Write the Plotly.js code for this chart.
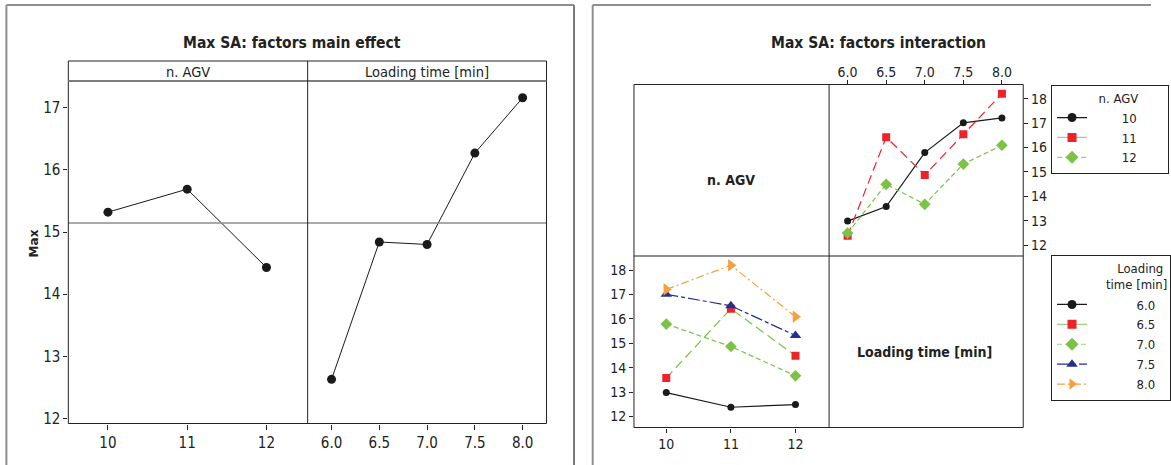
<!DOCTYPE html>
<html>
<head>
<meta charset="utf-8">
<script src="https://cdn.plot.ly/plotly-3.0.1.min.js"></script>
<style>
html,body{margin:0;padding:0;background:#fff;}
#chart{width:1171px;height:465px;}
</style>
</head>
<body>
<div id="chart"></div>
<script>
// ---------------- data ----------------
const agvLevels = [10, 11, 12];
const agvTickText = ['10', '11', '12'];
const loadLevels = [6.0, 6.5, 7.0, 7.5, 8.0];
const loadTickText = ['6.0', '6.5', '7.0', '7.5', '8.0'];
const yTicksMain = [12, 13, 14, 15, 16, 17];
const yTicksInter = [12, 13, 14, 15, 16, 17, 18];

// main effects (means of Max SA)
const mainAGV = [15.32, 15.69, 14.43];
const mainLoad = [12.63, 14.84, 14.80, 16.27, 17.16];

// interaction means: one row per n. AGV, one value per loading time
const interAGV10 = [12.98, 13.58, 15.79, 17.01, 17.21];
const interAGV11 = [12.38, 16.42, 14.87, 16.54, 18.20];
const interAGV12 = [12.49, 14.49, 13.67, 15.32, 16.09];

const agvNames = ['10', '11', '12'];
const loadNames = ['6.0', '6.5', '7.0', '7.5', '8.0'];

// ---------------- layout helpers ----------------
const W = 1171, H = 465;
const px = v => v / W;
const py = v => 1 - v / H;
const FONT = 'Liberation Sans Narrow, DejaVu Sans Condensed, Arial Narrow, Liberation Sans, sans-serif';
const INK = '#222';

const cBlack = '#1a1a1a', cRed = '#ee2229', cGreen = '#7cc245', cLGreen = '#9dd27a',
      cNavy = '#22308f', cOrange = '#f5a03a';

const interRows = [interAGV10, interAGV11, interAGV12];
const grand = mainAGV.reduce((a, b) => a + b, 0) / mainAGV.length;

const traces = [];
// main effect panels
traces.push({x: agvLevels, y: mainAGV, xaxis: 'x', yaxis: 'y', mode: 'lines+markers',
  line: {color: cBlack, width: 1}, marker: {color: cBlack, size: 9}, showlegend: false});
traces.push({x: loadLevels, y: mainLoad, xaxis: 'x2', yaxis: 'y2', mode: 'lines+markers',
  line: {color: cBlack, width: 1}, marker: {color: cBlack, size: 9}, showlegend: false});

// interaction: top-right (x = loading time, lines = n. AGV)
const agvStyles = [
  {line: {color: cBlack, width: 1.2}, marker: {color: cBlack, size: 7, symbol: 'circle'}},
  {line: {color: cRed, width: 1.2, dash: '9px,5px'}, marker: {color: cRed, size: 8, symbol: 'square'}},
  {line: {color: cGreen, width: 1.2, dash: '5px,3px'}, marker: {color: cGreen, size: 9, symbol: 'diamond'}}
];
interRows.forEach((row, i) => {
  traces.push(Object.assign({x: loadLevels, y: row, xaxis: 'x3', yaxis: 'y3', mode: 'lines+markers',
    showlegend: false, name: agvNames[i]}, agvStyles[i]));
});

// interaction: bottom-left (x = n. AGV, lines = loading time)
const loadStyles = [
  {line: {color: cBlack, width: 1.2}, marker: {color: cBlack, size: 7, symbol: 'circle'}},
  {line: {color: cGreen, width: 1.2, dash: '9px,5px'}, marker: {color: cRed, size: 8, symbol: 'square'}},
  {line: {color: cGreen, width: 1.2, dash: '5px,3px'}, marker: {color: cGreen, size: 9, symbol: 'diamond'}},
  {line: {color: cNavy, width: 1.2, dash: '12px,3px,4px,3px'}, marker: {color: cNavy, size: 10, symbol: 'triangle-up'}},
  {line: {color: cOrange, width: 1.2, dash: '8px,3px,2px,3px'}, marker: {color: cOrange, size: 11, symbol: 'triangle-right'}}
];
loadLevels.forEach((lt, j) => {
  traces.push(Object.assign({x: agvLevels, y: interRows.map(r => r[j]), xaxis: 'x4', yaxis: 'y4',
    mode: 'lines+markers', showlegend: false, name: loadNames[j]}, loadStyles[j]));
});

// legend entries (as drawn in the original legends)
const pad = n => '\u00a0'.repeat(n);
const agvLegendStyles = [
  {line: {color: cBlack, width: 1.2}, marker: {color: cBlack, size: 9, symbol: 'circle'}},
  {line: {color: cLGreen, width: 1.2}, marker: {color: cRed, size: 9, symbol: 'square'}},
  {line: {color: cLGreen, width: 1.2, dash: '5px,3px'}, marker: {color: cGreen, size: 10, symbol: 'diamond'}}
];
agvNames.forEach((nm, i) => {
  traces.push(Object.assign({x: [null], y: [null], xaxis: 'x3', yaxis: 'y3', mode: 'lines+markers',
    name: pad(8) + nm + pad(7), legend: 'legend', showlegend: true}, agvLegendStyles[i]));
});
const loadLegendStyles = [
  {line: {color: cBlack, width: 1.2}, marker: {color: cBlack, size: 9, symbol: 'circle'}},
  {line: {color: cLGreen, width: 1.2}, marker: {color: cRed, size: 9, symbol: 'square'}},
  {line: {color: cLGreen, width: 1.2, dash: '5px,3px'}, marker: {color: cGreen, size: 10, symbol: 'diamond'}},
  {line: {color: cNavy, width: 1.2, dash: '12px,3px,4px,3px'}, marker: {color: cNavy, size: 10, symbol: 'triangle-up'}},
  {line: {color: cOrange, width: 1.2, dash: '8px,3px,2px,3px'}, marker: {color: cOrange, size: 10, symbol: 'triangle-right'}}
];
loadNames.forEach((nm, j) => {
  traces.push(Object.assign({x: [null], y: [null], xaxis: 'x4', yaxis: 'y4', mode: 'lines+markers',
    name: pad(12) + nm + pad(1), legend: 'legend2', showlegend: true}, loadLegendStyles[j]));
});

const axBase = {showgrid: false, zeroline: false, showline: false, ticks: 'outside', ticklen: 5,
  tickcolor: INK, tickwidth: 1, fixedrange: true, tickfont: {family: FONT, size: 15, color: INK}};
const axI = Object.assign({}, axBase, {ticklen: 4, tickfont: {family: FONT, size: 14, color: INK}});

function ann(text, x, y, size, extra) {
  return Object.assign({text: text, xref: 'paper', yref: 'paper', x: px(x), y: py(y), showarrow: false,
    xanchor: 'center', yanchor: 'middle', font: {family: FONT, size: size, color: INK}}, extra || {});
}

const layout = {
  width: W, height: H, margin: {l: 0, r: 0, t: 0, b: 0},
  paper_bgcolor: '#fff', plot_bgcolor: 'rgba(0,0,0,0)',
  font: {family: FONT, color: INK},
  xaxis: Object.assign({}, axBase, {domain: [px(69.5), px(313)], range: [9.5, 12.52], anchor: 'y',
    tickvals: agvLevels, ticktext: agvTickText}),
  yaxis: Object.assign({}, axBase, {domain: [py(423.5), py(81)], range: [11.92, 17.43], anchor: 'x',
    tickvals: yTicksMain, ticklen: 4}),
  xaxis2: Object.assign({}, axBase, {domain: [px(313), px(556)], range: [5.75, 8.25], anchor: 'y2',
    tickvals: loadLevels, ticktext: loadTickText}),
  yaxis2: Object.assign({}, axBase, {domain: [py(423.5), py(81)], range: [11.92, 17.43], anchor: 'x2',
    ticks: '', showticklabels: false}),
  xaxis3: Object.assign({}, axI, {domain: [px(843.5), px(1041)], range: [5.76, 8.276], anchor: 'y3', side: 'top',
    tickvals: loadLevels, ticktext: loadTickText, ticklabelstandoff: -3}),
  yaxis3: Object.assign({}, axI, {domain: [py(256), py(84.5)], range: [11.55, 18.58], anchor: 'x3', side: 'right',
    tickvals: yTicksInter}),
  xaxis4: Object.assign({}, axI, {domain: [px(645), px(843.5)], range: [9.5, 12.52], anchor: 'y4',
    tickvals: agvLevels, ticktext: agvTickText}),
  yaxis4: Object.assign({}, axI, {domain: [py(427.5), py(256)], range: [11.55, 18.58], anchor: 'x4',
    tickvals: yTicksInter}),
  legend: {x: px(1069.3), y: py(84.7), xanchor: 'left', yanchor: 'top', bordercolor: INK, borderwidth: 1,
    bgcolor: '#fff', font: {family: FONT, size: 13, color: INK}, tracegroupgap: 0, itemwidth: 30,
    title: {text: pad(12) + 'n. AGV', font: {family: FONT, size: 13, color: INK}}},
  legend2: {x: px(1069.3), y: py(254.7), xanchor: 'left', yanchor: 'top', bordercolor: INK, borderwidth: 1,
    bgcolor: '#fff', font: {family: FONT, size: 13, color: INK}, tracegroupgap: 0, itemwidth: 30,
    title: {text: pad(17) + 'Loading<br>' + pad(14) + 'time [min]', font: {family: FONT, size: 13, color: INK}}},
  shapes: [
    // outer frames
    {type: 'line', xref: 'paper', yref: 'paper', x0: px(6.5), x1: px(584), y0: py(5), y1: py(5), line: {color: '#8f8f8f', width: 2}},
    {type: 'line', xref: 'paper', yref: 'paper', x0: px(6.5), x1: px(6.5), y0: py(5), y1: 0, line: {color: '#8f8f8f', width: 2}},
    {type: 'line', xref: 'paper', yref: 'paper', x0: px(584), x1: px(584), y0: py(5), y1: 0, line: {color: '#7a7a7a', width: 2}},
    {type: 'line', xref: 'paper', yref: 'paper', x0: px(603), x1: 1, y0: py(5), y1: py(5), line: {color: '#8f8f8f', width: 2}},
    {type: 'line', xref: 'paper', yref: 'paper', x0: px(603), x1: px(603), y0: py(5), y1: 0, line: {color: '#8f8f8f', width: 2}},
    // main effects: mean line
    {type: 'line', xref: 'paper', yref: 'y', x0: px(69.5), x1: px(556), y0: grand, y1: grand, line: {color: '#8c8c8c', width: 1.5}},
    // main effects box, strip and divider
    {type: 'rect', xref: 'paper', yref: 'paper', x0: px(69.5), x1: px(556), y0: py(423.5), y1: py(61), line: {color: INK, width: 1}},
    {type: 'line', xref: 'paper', yref: 'paper', x0: px(69.5), x1: px(556), y0: py(81), y1: py(81), line: {color: '#7d7d7d', width: 2}},
    {type: 'line', xref: 'paper', yref: 'paper', x0: px(313), x1: px(313), y0: py(423.5), y1: py(61), line: {color: INK, width: 1}},
    // interaction matrix
    {type: 'rect', xref: 'paper', yref: 'paper', x0: px(645), x1: px(1041), y0: py(427.5), y1: py(84.5), line: {color: INK, width: 1}},
    {type: 'line', xref: 'paper', yref: 'paper', x0: px(843.5), x1: px(843.5), y0: py(427.5), y1: py(84.5), line: {color: INK, width: 1}},
    {type: 'line', xref: 'paper', yref: 'paper', x0: px(645), x1: px(1041), y0: py(256), y1: py(256), line: {color: INK, width: 1}}
  ],
  annotations: [
    ann('<b>Max SA: factors main effect</b>', 297, 43, 15.5),
    ann('<b>Max</b>', 35, 243, 12, {textangle: -90, font: {family: 'DejaVu Sans, sans-serif', size: 12, color: INK}}),
    ann('n. AGV', 191, 71.5, 14.5),
    ann('Loading time [min]', 434.5, 71.5, 14.5),
    ann('<b>Max SA: factors interaction</b>', 893.5, 43, 15.5),
    ann('<b>n. AGV</b>', 744, 180, 14),
    ann('<b>Loading time [min]</b>', 941, 352, 14)
  ]
};

Plotly.newPlot('chart', traces, layout, {staticPlot: true, displayModeBar: false});
</script>
</body>
</html>
